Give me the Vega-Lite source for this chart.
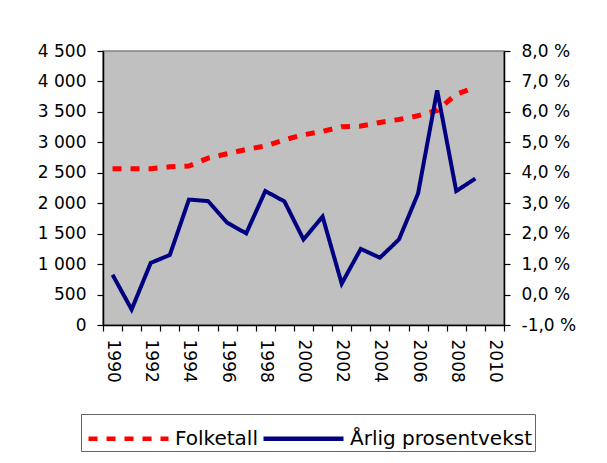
{
  "$schema": "https://vega.github.io/schema/vega-lite/v6.json",
  "width": 401,
  "height": 274,
  "autosize": {"type": "none"},
  "padding": {"left": 103, "top": 51, "right": 103, "bottom": 138},
  "background": "white",
  "config": {
    "view": {"fill": "#C0C0C0", "stroke": "#808080", "strokeWidth": 1.5},
    "axis": {
      "labelFont": "DejaVu Sans",
      "labelFontSize": 17,
      "labelColor": "black",
      "domainColor": "black",
      "domainWidth": 1.5,
      "tickColor": "black",
      "tickWidth": 1.2,
      "tickSize": 6,
      "grid": false,
      "title": null
    },
    "legend": {
      "labelFont": "DejaVu Sans",
      "labelFontSize": 20,
      "labelColor": "black",
      "labelLimit": 400,
      "strokeColor": "#666666"
    }
  },
  "data": {
    "values": [
      {"year": 1990, "series": "Folketall", "value": 2565},
      {"year": 1991, "series": "Folketall", "value": 2565},
      {"year": 1992, "series": "Folketall", "value": 2565},
      {"year": 1993, "series": "Folketall", "value": 2598},
      {"year": 1994, "series": "Folketall", "value": 2610},
      {"year": 1995, "series": "Folketall", "value": 2741},
      {"year": 1996, "series": "Folketall", "value": 2812},
      {"year": 1997, "series": "Folketall", "value": 2883},
      {"year": 1998, "series": "Folketall", "value": 2938},
      {"year": 1999, "series": "Folketall", "value": 3042},
      {"year": 2000, "series": "Folketall", "value": 3124},
      {"year": 2001, "series": "Folketall", "value": 3179},
      {"year": 2002, "series": "Folketall", "value": 3256},
      {"year": 2003, "series": "Folketall", "value": 3267},
      {"year": 2004, "series": "Folketall", "value": 3327},
      {"year": 2005, "series": "Folketall", "value": 3376},
      {"year": 2006, "series": "Folketall", "value": 3437},
      {"year": 2007, "series": "Folketall", "value": 3524},
      {"year": 2008, "series": "Folketall", "value": 3790},
      {"year": 2009, "series": "Folketall", "value": 3903},
      {"year": 1990, "series": "Årlig prosentvekst", "value": 0.65},
      {"year": 1991, "series": "Årlig prosentvekst", "value": -0.49},
      {"year": 1992, "series": "Årlig prosentvekst", "value": 1.04},
      {"year": 1993, "series": "Årlig prosentvekst", "value": 1.30},
      {"year": 1994, "series": "Årlig prosentvekst", "value": 3.12},
      {"year": 1995, "series": "Årlig prosentvekst", "value": 3.07},
      {"year": 1996, "series": "Årlig prosentvekst", "value": 2.36},
      {"year": 1997, "series": "Årlig prosentvekst", "value": 2.01},
      {"year": 1998, "series": "Årlig prosentvekst", "value": 3.40},
      {"year": 1999, "series": "Årlig prosentvekst", "value": 3.06},
      {"year": 2000, "series": "Årlig prosentvekst", "value": 1.81},
      {"year": 2001, "series": "Årlig prosentvekst", "value": 2.56},
      {"year": 2002, "series": "Årlig prosentvekst", "value": 0.36},
      {"year": 2003, "series": "Årlig prosentvekst", "value": 1.50},
      {"year": 2004, "series": "Årlig prosentvekst", "value": 1.21},
      {"year": 2005, "series": "Årlig prosentvekst", "value": 1.81},
      {"year": 2006, "series": "Årlig prosentvekst", "value": 3.32},
      {"year": 2007, "series": "Årlig prosentvekst", "value": 6.71},
      {"year": 2008, "series": "Årlig prosentvekst", "value": 3.40},
      {"year": 2009, "series": "Årlig prosentvekst", "value": 3.81}
    ]
  },
  "encoding": {
    "x": {
      "field": "year",
      "type": "quantitative",
      "scale": {"domain": [1989.5, 2010.5], "nice": false, "zero": false},
      "axis": {
        "values": [1989.5, 1990.5, 1991.5, 1992.5, 1993.5, 1994.5, 1995.5, 1996.5, 1997.5, 1998.5, 1999.5, 2000.5, 2001.5, 2002.5, 2003.5, 2004.5, 2005.5, 2006.5, 2007.5, 2008.5, 2009.5, 2010.5],
        "labelExpr": "(datum.value + 0.5) % 2 == 0 ? format(datum.value + 0.5, 'd') : ''",
        "labelAngle": 90,
        "labelOffset": 9.55,
        "labelPadding": 8,
        "labelOverlap": false,
        "labelFlush": false,
        "labelBound": false
      }
    },
    "color": {
      "field": "series",
      "type": "nominal",
      "scale": {"domain": ["Folketall", "Årlig prosentvekst"], "range": ["#FF0000", "#000080"]},
      "legend": {
        "title": null,
        "orient": "none",
        "legendX": -22,
        "legendY": 363,
        "direction": "horizontal",
        "columns": 2,
        "symbolType": "M-0.85,0H3.15",
        "symbolSize": 1600,
        "symbolStrokeWidth": 4.5,
        "labelOffset": 47,
        "columnPadding": -7,
        "padding": 2
      }
    },
    "strokeDash": {
      "field": "series",
      "type": "nominal",
      "scale": {"domain": ["Folketall", "Årlig prosentvekst"], "range": [[9, 9], [1, 0]]},
      "legend": {
        "title": null,
        "orient": "none",
        "legendX": -22,
        "legendY": 363,
        "direction": "horizontal",
        "columns": 2,
        "symbolType": "M-0.85,0H3.15",
        "symbolSize": 1600,
        "symbolStrokeWidth": 4.5,
        "labelOffset": 47,
        "columnPadding": -7,
        "padding": 2
      }
    }
  },
  "layer": [
    {
      "transform": [{"filter": "datum.series == 'Folketall'"}],
      "mark": {"type": "line", "strokeWidth": 5, "strokeCap": "butt"},
      "encoding": {
        "y": {
          "field": "value",
          "type": "quantitative",
          "scale": {"domain": [0, 4500], "nice": false, "zero": false},
          "axis": {
            "orient": "left",
            "values": [0, 500, 1000, 1500, 2000, 2500, 3000, 3500, 4000, 4500],
            "labelExpr": "replace(format(datum.value, ',d'), ',', ' ')",
            "labelPadding": 11
          }
        }
      }
    },
    {
      "transform": [{"filter": "datum.series != 'Folketall'"}],
      "mark": {"type": "line", "strokeWidth": 4, "strokeCap": "butt"},
      "encoding": {
        "y": {
          "field": "value",
          "type": "quantitative",
          "scale": {"domain": [-1, 8], "nice": false, "zero": false},
          "axis": {
            "orient": "right",
            "values": [-1, 0, 1, 2, 3, 4, 5, 6, 7, 8],
            "labelExpr": "replace(replace(format(datum.value, '.1f'), '.', ','), '\u2212', '-') + ' %'",
            "labelPadding": 11
          }
        }
      }
    }
  ],
  "resolve": {"scale": {"y": "independent"}}
}
